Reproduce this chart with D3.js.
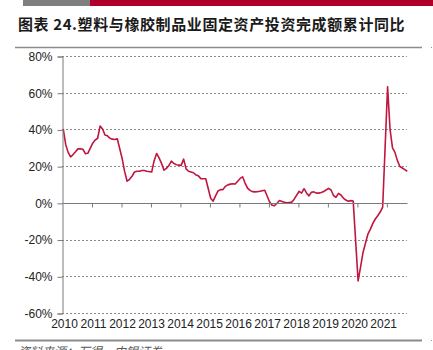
<!DOCTYPE html>
<html>
<head>
<meta charset="utf-8">
<script src="https://cdn.jsdelivr.net/npm/d3@7/dist/d3.min.js"></script>
<style>
  html, body { margin: 0; padding: 0; background: #ffffff; }
  svg { display: block; }
</style>
</head>
<body>
<script>
// Plastics & rubber products: fixed-asset investment, cumulative YoY (%)
const title = "图表 24.塑料与橡胶制品业固定资产投资完成额累计同比";
const source = "资料来源：万得，中银证券";

const years = [2010, 2011, 2012, 2013, 2014, 2015, 2016, 2017, 2018, 2019, 2020, 2021];
const yearLabels = ["2010", "2011", "2012", "2013", "2014", "2015", "2016", "2017", "2018", "2019", "2020", "2021"];
// Reported months (Jan is merged into Feb in the cumulative series)
const reportMonths = [2, 3, 4, 5, 6, 7, 8, 9, 10, 11, 12];
const lastMonth2021 = 10;

const y2010 = [40.3, 31.8, 27.5, 25.0, 26.3, 27.8, 29.4, 29.4, 29.2, 26.8, 27.0];
const y2011 = [32.5, 34.2, 35.2, 41.8, 40.2, 37.0, 36.5, 35.2, 34.7, 34.5, 34.9];
const y2012 = [24.0, 17.0, 11.8, 12.8, 14.5, 16.8, 17.2, 17.2, 17.6, 17.6, 17.2];
const y2013 = [16.8, 23.0, 26.9, 24.5, 21.5, 17.8, 18.8, 20.3, 22.7, 21.5, 20.8];
const y2014 = [20.4, 23.8, 18.5, 17.2, 16.8, 16.4, 15.2, 14.7, 13.2, 13.1, 13.1];
const y2015 = [2.5, 0.9, 3.8, 6.5, 7.2, 7.2, 9.0, 9.8, 10.2, 10.4, 10.3];
const y2016 = [13.3, 14.2, 10.8, 8.0, 6.8, 6.1, 6.0, 6.1, 6.3, 6.6, 6.9];
const y2017 = [0.5, -1.3, -1.5, -0.2, 1.3, 0.8, 0.3, 0.0, 0.2, 0.4, 2.0];
const y2018 = [6.3, 5.3, 7.7, 5.4, 3.8, 5.8, 6.0, 5.3, 5.3, 5.6, 6.2];
const y2019 = [7.9, 7.0, 4.0, 3.0, 5.2, 4.3, 2.6, 1.5, 0.9, 1.2, 1.0];
const y2020 = [-42.5, -35.0, -27.0, -22.0, -17.0, -14.3, -11.2, -8.8, -7.0, -5.0, -2.3];
const y2021 = [63.2, 40.0, 30.0, 27.5, 23.0, 19.8, 19.0, 18.1, 17.2];

const yTicks = [80, 60, 40, 20, 0, -20, -40, -60];

const seriesByYear = [y2010, y2011, y2012, y2013, y2014, y2015, y2016, y2017, y2018, y2019, y2020, y2021];

// Month index from Jan 2010 = 0
const data = [];
years.forEach((yr, i) => {
  seriesByYear[i].forEach((v, j) => {
    const mo = reportMonths[j];
    if (yr === 2021 && mo > lastMonth2021) return;
    data.push({ m: (yr - 2010) * 12 + (mo - 1), v });
  });
});

const W = 433, H = 350;
const svg = d3.select("body").append("svg").attr("width", W).attr("height", H);

const CJK = "'Noto Sans CJK SC', 'Noto Sans', sans-serif";
const LAT = "'Liberation Sans', Arial, sans-serif";

// Header band
svg.append("rect").attr("x", 23).attr("y", 0).attr("width", 67).attr("height", 6).attr("fill", "#7f7f7f");
svg.append("rect").attr("x", 90).attr("y", 0).attr("width", 343).attr("height", 6).attr("fill", "#b0002a");

svg.append("text")
  .attr("x", 18).attr("y", 30)
  .attr("font-family", CJK).attr("font-size", 15).attr("font-weight", "bold")
  .attr("letter-spacing", 0.6)
  .attr("fill", "#1a1a1a")
  .text(title);

svg.append("line").attr("x1", 15).attr("x2", 422).attr("y1", 47.5).attr("y2", 47.5)
  .attr("stroke", "#8c8c8c").attr("stroke-width", 1.5);

// Scales
const x = d3.scaleLinear().domain([0.5, 140.9]).range([62, 407]);
const y = d3.scaleLinear().domain([-60, 80]).range([313, 56]);
const xLab = d3.scalePoint().domain(yearLabels).range([64.5, 383.7]);

const plot = svg.append("g");

// Dashed gridlines
plot.selectAll("line.grid").data(yTicks.filter(t => t !== 0)).join("line")
  .attr("class", "grid")
  .attr("x1", x(0.5)).attr("x2", x(140.9))
  .attr("y1", d => Math.round(y(d)) + 0.5).attr("y2", d => Math.round(y(d)) + 0.5)
  .attr("stroke", "#8a8a8a").attr("stroke-width", 1).attr("stroke-dasharray", "2,2");

// Y axis
const yAxis = d3.axisLeft(y).tickValues(yTicks).tickSize(5).tickFormat(d => d + "%");
const gy = svg.append("g").attr("transform", `translate(${x(0.5) + 0.5},0.5)`).call(yAxis);
gy.select(".domain").attr("stroke", "#7a7a7a");
gy.selectAll(".tick line").attr("stroke", "#7a7a7a");
gy.selectAll(".tick text")
  .attr("x", -10).attr("font-family", LAT).attr("font-size", 12).attr("fill", "#222");

// Zero line with year ticks pointing down
const yearTickVals = d3.range(1, 12).map(k => 12 * k + 0.5);
const xAxis = d3.axisBottom(x).tickValues(yearTickVals).tickSize(4).tickFormat("");
const gx = svg.append("g").attr("transform", `translate(0.5,${Math.round(y(0)) + 0.5})`).call(xAxis);
gx.select(".domain").attr("stroke", "#7a7a7a").attr("d", `M${x(0.5)},0H${x(140.9)}`);
gx.selectAll(".tick line").attr("stroke", "#7a7a7a");

// Year labels
svg.append("g").selectAll("text").data(yearLabels).join("text")
  .attr("x", d => xLab(d)).attr("y", 328)
  .attr("text-anchor", "middle")
  .attr("font-family", LAT).attr("font-size", 12).attr("fill", "#222")
  .text(d => d);

// Series line
const line = d3.line().x(d => x(d.m)).y(d => y(d.v));
plot.append("path").datum(data)
  .attr("d", line)
  .attr("fill", "none")
  .attr("stroke", "#c0163f")
  .attr("stroke-width", 1.6)
  .attr("stroke-linejoin", "round");

// Footer rule and source note
svg.append("line").attr("x1", 15).attr("x2", 422).attr("y1", 340.5).attr("y2", 340.5)
  .attr("stroke", "#8c8c8c").attr("stroke-width", 2);
svg.append("rect").attr("x", 431).attr("y", 47).attr("width", 1).attr("height", 1).attr("fill", "#999");
svg.append("rect").attr("x", 431).attr("y", 340).attr("width", 1).attr("height", 1).attr("fill", "#999");

svg.append("text")
  .attr("x", 18).attr("y", 356)
  .attr("font-family", CJK).attr("font-size", 12).attr("font-style", "italic")
  .attr("fill", "#555")
  .text(source);
</script>
</body>
</html>
